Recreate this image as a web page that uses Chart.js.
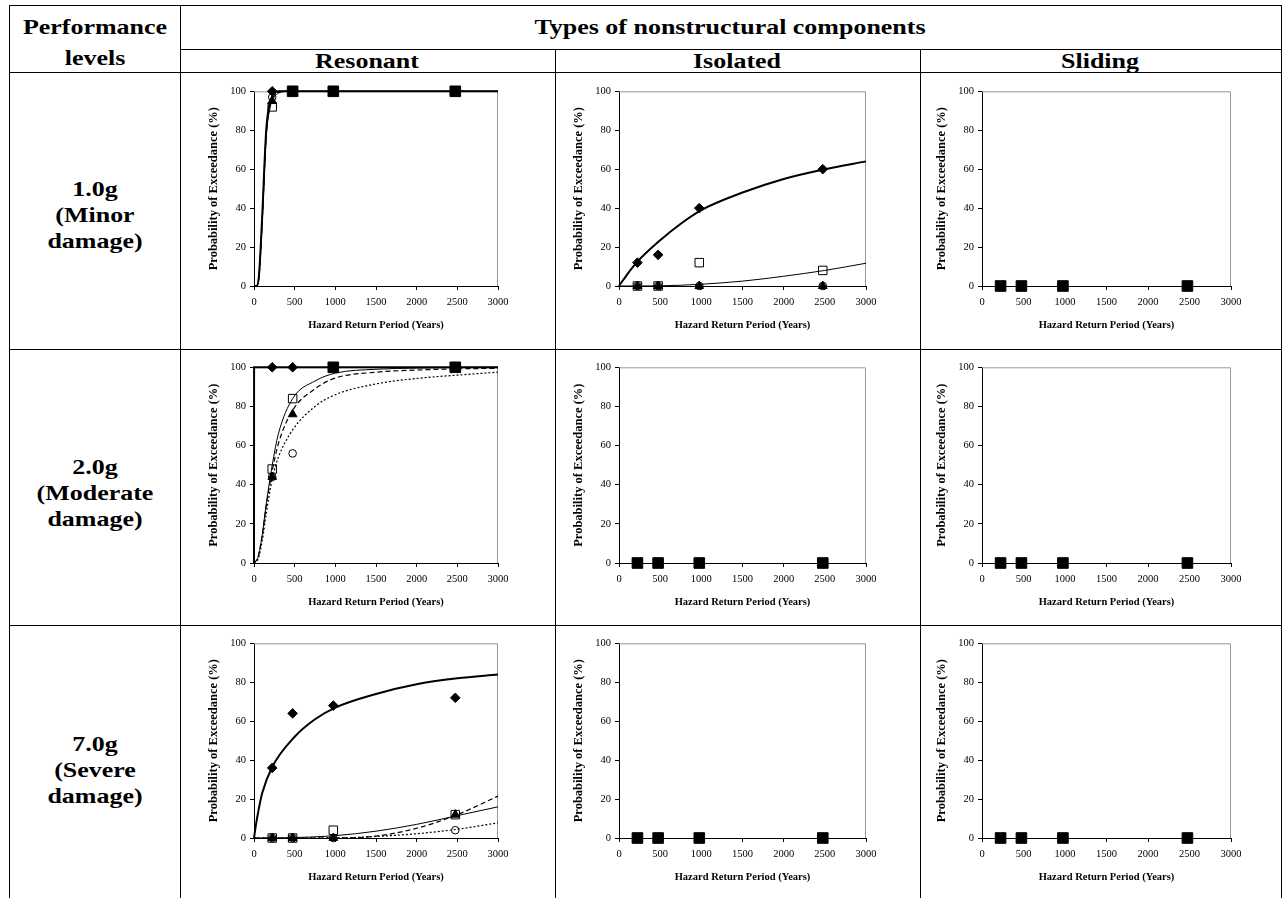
<!DOCTYPE html>
<html>
<head>
<meta charset="utf-8">
<script src="https://cdn.jsdelivr.net/npm/chart.js@4/dist/chart.umd.min.js"></script>
<style>
  html, body { margin: 0; padding: 0; background: #fff; }
  #root { position: relative; width: 1283px; height: 898px; overflow: hidden; background: #fff; }
  .hl, .vl { position: absolute; background: #000; }
  .hl { height: 1px; }
  .vl { width: 1px; }
  .txt { position: absolute; font-family: "Liberation Serif", "Times New Roman", serif; font-weight: bold;
         font-size: 22px; color: #000; text-align: center; white-space: nowrap; transform: scaleX(1.18); transform-origin: center; line-height: 26px; }
  canvas { position: absolute; }
</style>
</head>
<body>
<div id="root"></div>
<script>
// ---------------- DATA ----------------
const returnPeriods = [224, 475, 975, 2475];

// Row 1 : 1.0g (Minor damage)
const r1Diamond      = [100, 100, 100, 100];
const r1OpenSquare   = [92, 100, 100, 100];
const r1Triangle     = [95, 100, 100, 100];
const r1Circle       = [97, 100, 100, 100];
const r1FilledSquare = [null, 100, 100, 100];
const r1FitX         = [0, 30, 60, 100, 150, 200, 250, 300, 400, 500, 1000, 3000];
const r1FitDiamond   = [0, 0, 5, 35, 80, 95, 99, 100, 100, 100, 100, 100];
const r1FitSquare    = [0, 0, 4, 32, 76, 92, 97, 99, 100, 100, 100, 100];
const r1FitTriangle  = [0, 0, 4, 33, 78, 93, 98, 99.5, 100, 100, 100, 100];
const r1FitCircle    = [0, 0, 5, 34, 79, 94, 98.5, 99.5, 100, 100, 100, 100];

const i1Diamond      = [12, 16, 40, 60];
const i1OpenSquare   = [0, 0, 12, 8];
const i1Triangle     = [0, 0, 0, 0];
const i1Circle       = [0, 0, 0, 0];
const i1FitX         = [0, 100, 224, 500, 750, 1000, 1500, 2000, 2500, 3000];
const i1FitDiamond   = [0, 6, 12.5, 23.5, 32, 39, 48, 55, 60, 64];
const i1FitSquare    = [0, 0, 0, 0.1, 0.4, 0.9, 2.5, 5, 8, 11.7];

// Row 2 : 2.0g (Moderate damage)
const r2Diamond      = [100, 100, 100, 100];
const r2OpenSquare   = [48, 84, 100, 100];
const r2Triangle     = [44, 76, 100, 100];
const r2Circle       = [44, 56, 100, 100];
const r2FilledSquare = [null, null, 100, 100];
const r2FitX         = [0, 50, 100, 150, 224, 300, 475, 750, 1000, 1500, 2000, 2500, 3000];
const r2FitDiamondX  = [0, 1, 3000];
const r2FitDiamond   = [0, 100, 100];
const r2FitSquare    = [0, 3, 14, 30, 50, 66, 84, 93, 97, 99, 99.6, 99.9, 100];
const r2FitTriangle  = [0, 3, 14, 29, 47, 61, 78, 89, 94.5, 97.5, 98.6, 99.2, 99.5];
const r2FitCircle    = [0, 2, 11, 25, 43, 54, 68, 80, 86, 91.5, 94.3, 96, 97.5];

// Row 3 : 7.0g (Severe damage)
const r3Diamond      = [36, 64, 68, 72];
const r3OpenSquare   = [0, 0, 4, 12];
const r3Triangle     = [0, 0, 0, 12];
const r3Circle       = [0, 0, 0, 4];
const r3FitX         = [0, 25, 50, 100, 224, 500, 750, 1000, 1500, 2000, 2500, 3000];
const r3FitDiamond   = [0, 7, 13, 23, 36.5, 52, 61, 67, 74, 79, 82, 84];
const r3FitSquare    = [0, 0, 0, 0, 0, 0.2, 0.6, 1.2, 3.5, 7, 11.5, 16];
const r3FitTriangle  = [0, 0, 0, 0, 0, 0, 0, 0, 1, 5, 12, 21.5];
const r3FitCircle    = [0, 0, 0, 0, 0, 0, 0, 0, 0.8, 2.2, 4.5, 7.8];

// Charts where every component stays at zero
const zeroValues     = [0, 0, 0, 0];

const xTicks = [0, 500, 1000, 1500, 2000, 2500, 3000];
const yTicks = [0, 20, 40, 60, 80, 100];

const columnTitles = ["Resonant", "Isolated", "Sliding"];
const rowTitles = [["1.0g", "(Minor", "damage)"], ["2.0g", "(Moderate", "damage)"], ["7.0g", "(Severe", "damage)"]];

// ---------------- TABLE ----------------
const root = document.getElementById('root');
function hl(x1, x2, y) { const d = document.createElement('div'); d.className = 'hl'; d.style.left = x1 + 'px'; d.style.width = (x2 - x1) + 'px'; d.style.top = y + 'px'; root.appendChild(d); }
function vl(x, y1, y2) { const d = document.createElement('div'); d.className = 'vl'; d.style.left = x + 'px'; d.style.top = y1 + 'px'; d.style.height = (y2 - y1) + 'px'; root.appendChild(d); }
function txt(s, cx, cy, w) { const d = document.createElement('div'); d.className = 'txt'; d.textContent = s; d.style.left = (cx - w / 2) + 'px'; d.style.width = w + 'px'; d.style.top = (cy - 13) + 'px'; root.appendChild(d); }

hl(9, 1282, 5); hl(180, 1282, 49); hl(9, 1282, 72); hl(9, 1282, 349); hl(9, 1282, 625);
vl(9, 5, 898); vl(180, 5, 898); vl(555, 49, 898); vl(920, 49, 898); vl(1281, 5, 898);

txt("Performance", 95, 27, 170);
txt("levels", 95, 58, 170);
txt("Types of nonstructural components", 730, 27, 600);
txt(columnTitles[0], 367, 61, 300);
txt(columnTitles[1], 737, 61, 300);
txt(columnTitles[2], 1100, 61, 300);
const rowCenters = [215, 493, 770];
rowTitles.forEach((lines, i) => { lines.forEach((s, j) => txt(s, 95, rowCenters[i] + (j - 1) * 26, 170)); });

// ---------------- CHARTS ----------------
const colX = [[254, 498], [619, 866], [982, 1231]];
const rowY = [[91, 286], [367, 563], [643, 838]];
const Y_W = 50, X_H = 48, PAD_T = 10, PAD_R = 20;

function pts(xs, ys) { return xs.map((x, i) => ({ x: x, y: ys[i] })); }
function marker(label, ys, style, radius, fill, order) {
  return { type: 'scatter', label, data: pts(returnPeriods, ys), showLine: false, pointStyle: style, pointRadius: radius,
           pointBackgroundColor: fill, pointBorderColor: '#000', pointBorderWidth: 1, order, clip: false };
}
function fit(label, xs, ys, width, dash, order) {
  return { type: 'scatter', label, data: pts(xs, ys), showLine: true, pointRadius: 0, borderColor: '#000', borderWidth: width,
           borderDash: dash, cubicInterpolationMode: 'monotone', fill: false, order, clip: false };
}

const framePlugin = {
  id: 'frame',
  beforeDatasetsDraw(chart) {
    const { ctx, chartArea: a } = chart;
    ctx.save(); ctx.strokeStyle = '#999'; ctx.lineWidth = 1;
    ctx.beginPath(); ctx.moveTo(a.left, a.top + 0.5); ctx.lineTo(a.right - 0.5, a.top + 0.5); ctx.lineTo(a.right - 0.5, a.bottom); ctx.stroke();
    ctx.restore();
  }
};

function makeChart(col, row, datasets) {
  const [x0, x1] = colX[col], [yT, yB] = rowY[row];
  const c = document.createElement('canvas');
  const w = (x1 - x0) + Y_W + PAD_R, h = (yB - yT) + PAD_T + X_H;
  c.width = w; c.height = h; c.style.left = (x0 - Y_W) + 'px'; c.style.top = (yT - PAD_T) + 'px';
  c.style.width = w + 'px'; c.style.height = h + 'px';
  root.appendChild(c);
  new Chart(c, {
    type: 'scatter',
    data: { datasets },
    plugins: [framePlugin],
    options: {
      responsive: false, animation: false, devicePixelRatio: 1,
      layout: { padding: { top: PAD_T, right: PAD_R, left: 0, bottom: 0 } },
      plugins: { legend: { display: false }, tooltip: { enabled: false } },
      scales: {
        x: { type: 'linear', min: 0, max: 3000, afterFit: s => { s.height = X_H; },
             afterBuildTicks: s => { s.ticks = xTicks.map(v => ({ value: v })); },
             grid: { drawOnChartArea: false, drawTicks: true, tickLength: 4, color: '#000' },
             border: { display: true, color: '#000', width: 1 },
             ticks: { padding: 6, color: '#000', maxRotation: 0, callback: v => String(v), font: { family: 'Liberation Serif', size: 10.5 } },
             title: { display: true, text: 'Hazard Return Period (Years)', color: '#000', padding: { top: 0, bottom: 2 },
                      font: { family: 'Liberation Serif', size: 10.5, weight: 'bold' } } },
        y: { type: 'linear', min: 0, max: 100, afterFit: s => { s.width = Y_W; },
             afterBuildTicks: s => { s.ticks = yTicks.map(v => ({ value: v })); },
             grid: { drawOnChartArea: false, drawTicks: true, tickLength: 4, color: '#000' },
             border: { display: true, color: '#000', width: 1 },
             ticks: { padding: 4, color: '#000', callback: v => String(v), font: { family: 'Liberation Serif', size: 10.5 } },
             title: { display: true, text: 'Probability of Exceedance (%)', color: '#000', padding: { top: 2, bottom: 0 },
                      font: { family: 'Liberation Serif', size: 12.5, weight: 'bold' } } }
      }
    }
  });
}

function standardMarkers(d, s, t, c, fs) {
  const out = [];
  if (fs) out.push(marker('Filled square', fs, 'rect', 7.5, '#000', 9));
  out.push(marker('Circle', c, 'circle', 3.8, 'rgba(255,255,255,0)', 8));
  out.push(marker('Triangle', t, 'triangle', 5, '#000', 7));
  out.push(marker('Open square', s, 'rect', 6, 'rgba(255,255,255,0)', 6));
  out.push(marker('Diamond', d, 'rectRot', 4.8, '#000', 5));
  return out;
}

// Row 1
makeChart(0, 0, [
  fit('Fit diamond', r1FitX, r1FitDiamond, 2, [], 1),
  fit('Fit square', r1FitX, r1FitSquare, 1, [], 2),
  fit('Fit triangle', r1FitX, r1FitTriangle, 1.2, [5, 3], 3),
  fit('Fit circle', r1FitX, r1FitCircle, 1.2, [2, 2], 4),
  ...standardMarkers(r1Diamond, r1OpenSquare, r1Triangle, r1Circle, r1FilledSquare)
]);
makeChart(1, 0, [
  fit('Fit diamond', i1FitX, i1FitDiamond, 2, [], 1),
  fit('Fit square', i1FitX, i1FitSquare, 1, [], 2),
  ...standardMarkers(i1Diamond, i1OpenSquare, i1Triangle, i1Circle, null)
]);
makeChart(2, 0, standardMarkers(zeroValues, zeroValues, zeroValues, zeroValues, zeroValues));

// Row 2
makeChart(0, 1, [
  fit('Fit diamond', r2FitDiamondX, r2FitDiamond, 2, [], 1),
  fit('Fit square', r2FitX, r2FitSquare, 1, [], 2),
  fit('Fit triangle', r2FitX, r2FitTriangle, 1.2, [5, 3], 3),
  fit('Fit circle', r2FitX, r2FitCircle, 1.2, [2, 2], 4),
  ...standardMarkers(r2Diamond, r2OpenSquare, r2Triangle, r2Circle, r2FilledSquare)
]);
makeChart(1, 1, standardMarkers(zeroValues, zeroValues, zeroValues, zeroValues, zeroValues));
makeChart(2, 1, standardMarkers(zeroValues, zeroValues, zeroValues, zeroValues, zeroValues));

// Row 3
makeChart(0, 2, [
  fit('Fit diamond', r3FitX, r3FitDiamond, 2, [], 1),
  fit('Fit square', r3FitX, r3FitSquare, 1, [], 2),
  fit('Fit triangle', r3FitX, r3FitTriangle, 1.2, [5, 3], 3),
  fit('Fit circle', r3FitX, r3FitCircle, 1.2, [2, 2], 4),
  ...standardMarkers(r3Diamond, r3OpenSquare, r3Triangle, r3Circle, null)
]);
makeChart(1, 2, standardMarkers(zeroValues, zeroValues, zeroValues, zeroValues, zeroValues));
makeChart(2, 2, standardMarkers(zeroValues, zeroValues, zeroValues, zeroValues, zeroValues));
</script>
</body>
</html>
